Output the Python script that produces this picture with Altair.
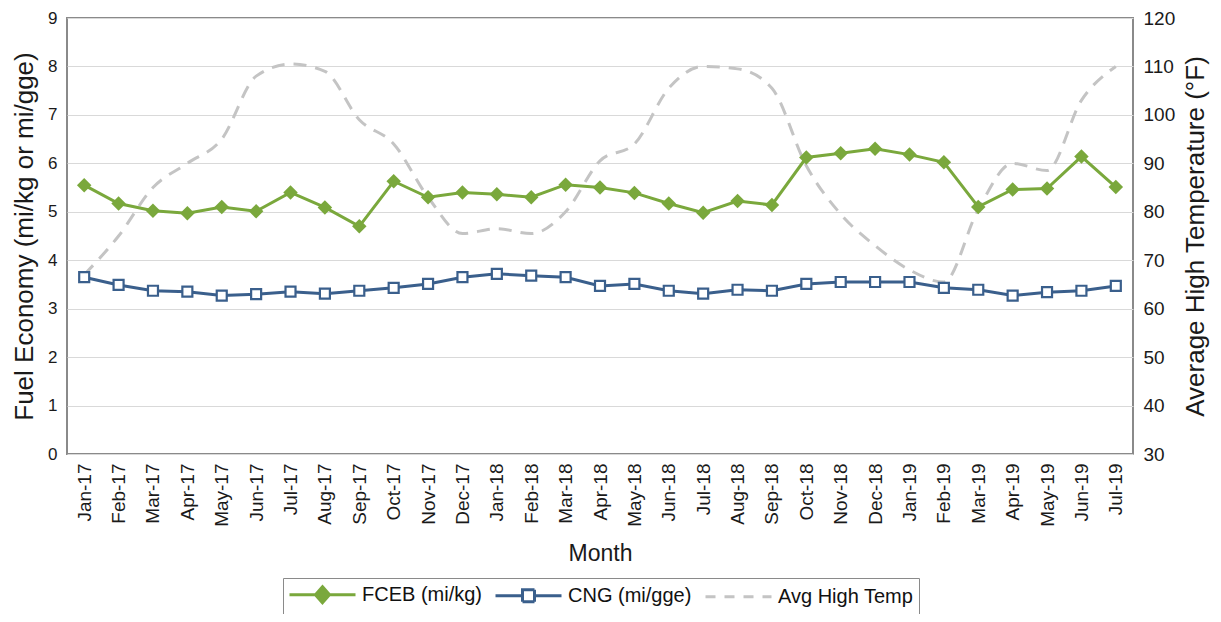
import altair as alt
import pandas as pd

months = ["Jan-17", "Feb-17", "Mar-17", "Apr-17", "May-17", "Jun-17", "Jul-17", "Aug-17",
          "Sep-17", "Oct-17", "Nov-17", "Dec-17", "Jan-18", "Feb-18", "Mar-18", "Apr-18",
          "May-18", "Jun-18", "Jul-18", "Aug-18", "Sep-18", "Oct-18", "Nov-18", "Dec-18",
          "Jan-19", "Feb-19", "Mar-19", "Apr-19", "May-19", "Jun-19", "Jul-19"]

fceb = [5.55, 5.17, 5.02, 4.97, 5.10, 5.01, 5.40, 5.09, 4.70, 5.63, 5.30, 5.40, 5.36, 5.30,
        5.56, 5.50, 5.39, 5.17, 4.98, 5.22, 5.14, 6.12, 6.21, 6.30, 6.18, 6.02, 5.10, 5.46,
        5.48, 6.14, 5.51]

cng = [3.65, 3.49, 3.37, 3.35, 3.27, 3.30, 3.35, 3.31, 3.37, 3.43, 3.51, 3.65, 3.72, 3.68,
       3.65, 3.47, 3.51, 3.37, 3.31, 3.39, 3.37, 3.51, 3.55, 3.55, 3.55, 3.43, 3.39, 3.27,
       3.34, 3.37, 3.47]

temp = [67, 75, 85, 90, 95, 108, 110.5, 109, 99, 94, 83, 75.5, 76.5, 75.5, 80, 90.5, 94,
        105.5, 110, 109.5, 105.5, 89.5, 79.5, 73, 68, 65.5, 80.5, 90, 88.5, 103, 110]

FCEB = "FCEB (mi/kg)"
CNG = "CNG (mi/gge)"
TEMP = "Avg High Temp"
series_names = [FCEB, CNG, TEMP]
GREEN = "#7aa83c"
BLUE = "#3a5f8c"
GRAY = "#c4c4c4"
colors = [GREEN, BLUE, GRAY]

fuel = pd.DataFrame({
    "month": months * 2,
    "series": [FCEB] * len(months) + [CNG] * len(months),
    "value": fceb + cng,
})
tdf = pd.DataFrame({"month": months, "series": TEMP, "value": temp})

FONT = "Liberation Sans"

x_enc = alt.X(
    "month:O",
    scale=alt.Scale(domain=months),
    axis=alt.Axis(title="Month", labelAngle=-90, labelFontSize=19, titleFontSize=23,
                  labelPadding=9, titlePadding=16, ticks=False, tickSize=0, domain=False,
                  grid=False),
)

y_fuel = alt.Y(
    "value:Q",
    scale=alt.Scale(domain=[0, 9], nice=False, zero=False),
    axis=alt.Axis(title="Fuel Economy (mi/kg or mi/gge)", values=list(range(0, 10)),
                  labelFontSize=17, titleFontSize=26, labelPadding=10, titlePadding=10,
                  ticks=False, tickSize=0, domain=False, grid=True, gridColor="#d9d9d9",
                  gridWidth=1),
)

y_temp = alt.Y(
    "value:Q",
    scale=alt.Scale(domain=[30, 120], nice=False, zero=False),
    axis=alt.Axis(title="Average High Temperature (°F)", orient="right",
                  values=list(range(30, 121, 10)), labelFontSize=19, titleFontSize=26,
                  labelPadding=10, titlePadding=8, titleAngle=270, titleBaseline="top",
                  ticks=False, tickSize=0, domain=False, grid=False),
)

# legend symbol shapes (line + marker); 1 unit = 10 px with symbolSize 400
sym_fceb = "M-1,0H5.6M1.6,0L2.3,-0.8L3.0,0L2.3,0.8Z"
sym_cng = "M-1,0H1.7M2.9,0H5.6M1.7,-0.6H2.9V0.6H1.7Z"
sym_temp = "M-1,0H5.6"

stroke_scale = alt.Scale(domain=series_names, range=colors)
fill_scale = alt.Scale(domain=series_names, range=[GREEN, "white", "transparent"])
shape_scale = alt.Scale(domain=series_names, range=[sym_fceb, sym_cng, sym_temp])
dash_scale = alt.Scale(domain=series_names, range=[[1, 0], [1, 0], [10, 9]])


def make_legend():
    return alt.Legend(
        title=None, orient="none", legendX=216, legendY=560, direction="horizontal",
        symbolSize=400, symbolStrokeWidth=3, labelFontSize=20, labelColor="#111",
        labelOffset=51, columnPadding=7, strokeColor="#8a8a8a", padding=5,
        symbolOpacity=1,
    )


fuel_lines = alt.Chart(fuel).mark_line(strokeWidth=3).encode(
    x=x_enc, y=y_fuel,
    stroke=alt.Stroke("series:N", scale=stroke_scale, legend=make_legend()),
)

fceb_pts = alt.Chart(fuel).transform_filter(alt.datum.series == FCEB).mark_point(
    shape="diamond", filled=True, size=210, color=GREEN, opacity=1
).encode(x=x_enc, y=y_fuel)

cng_pts = alt.Chart(fuel).transform_filter(alt.datum.series == CNG).mark_point(
    shape="square", filled=True, fill="white", stroke=BLUE, strokeWidth=2.2, size=100,
    opacity=1
).encode(x=x_enc, y=y_fuel)

# legend-only layer: filtered to no rows, it only carries the legend symbol scales
legend_layer = alt.Chart(fuel).transform_filter("false").mark_point(
    filled=True, opacity=1, strokeWidth=3
).encode(
    x=x_enc, y=y_fuel,
    stroke=alt.Stroke("series:N", scale=stroke_scale, legend=make_legend()),
    fill=alt.Fill("series:N", scale=fill_scale, legend=make_legend()),
    shape=alt.Shape("series:N", scale=shape_scale, legend=make_legend()),
    strokeDash=alt.StrokeDash("series:N", scale=dash_scale, legend=make_legend()),
)

temp_line = alt.Chart(tdf).mark_line(
    strokeWidth=3, strokeDash=[13, 9], interpolate="monotone"
).encode(
    x=x_enc, y=y_temp,
    stroke=alt.Stroke("series:N", scale=stroke_scale, legend=make_legend()),
)

fuel_layer = alt.layer(fuel_lines, cng_pts, fceb_pts, legend_layer)

chart = alt.layer(temp_line, fuel_layer).resolve_scale(y="independent").properties(
    width=1066, height=436,
    autosize=alt.AutoSizeParams(type="none"),
    padding={"left": 59, "top": 10, "right": 80, "bottom": 160},
).configure(font=FONT).configure_view(
    stroke="#8a8a8a", strokeWidth=2
).configure_axis(
    labelColor="#1a1a1a", titleColor="#1a1a1a", titleFontWeight="normal", labelFont=FONT,
    titleFont=FONT
).configure_legend(labelFont=FONT)

chart.save("out.html", embed_options={"renderer": "svg", "actions": False})
